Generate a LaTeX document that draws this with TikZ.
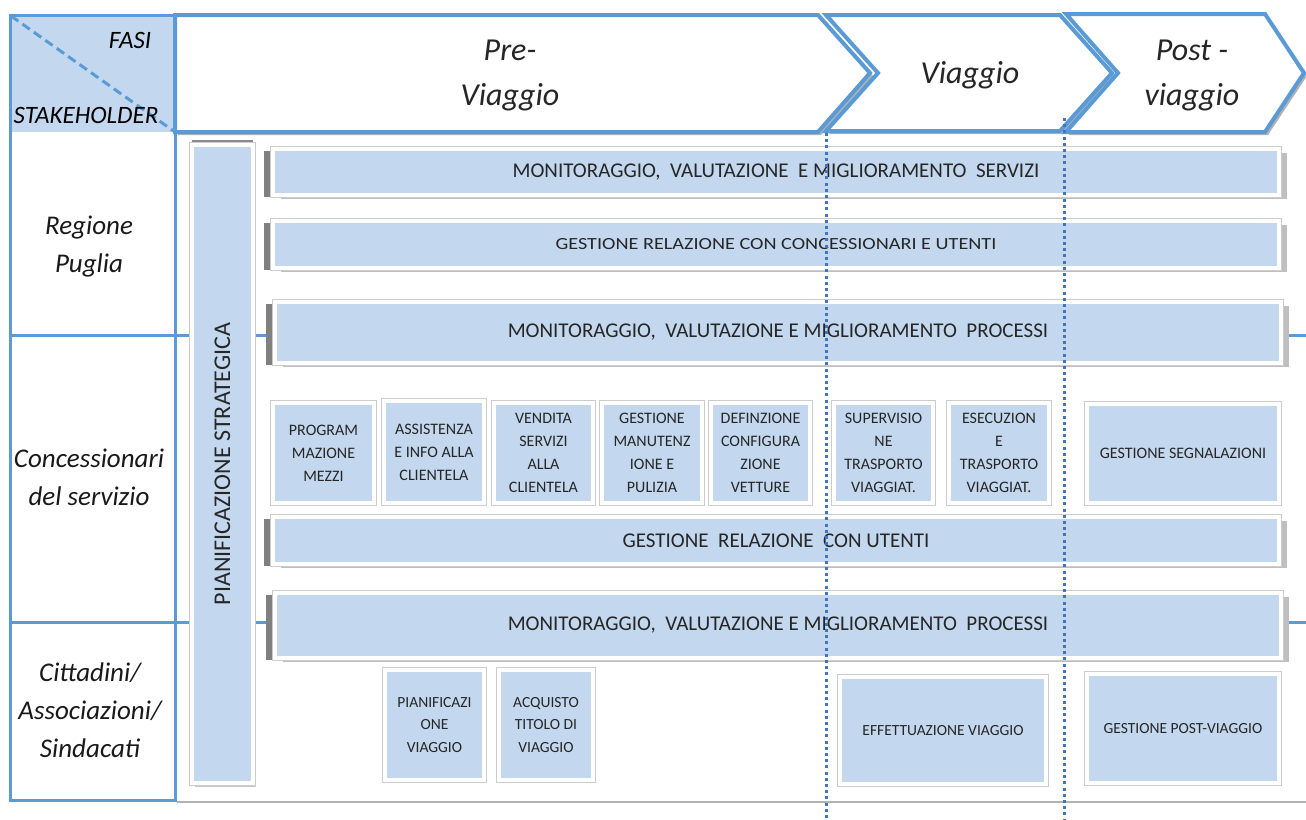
\documentclass[tikz,border=0pt]{standalone}
\usepackage{fontspec}
\setmainfont{Carlito}
\usetikzlibrary{shadows}
\definecolor{lineblue}{RGB}{91,155,213}
\definecolor{boxblue}{RGB}{195,216,238}
\definecolor{dotblue}{RGB}{68,114,196}
\definecolor{txt}{RGB}{38,38,38}
\tikzset{
  gridline/.style={draw=lineblue, line width=3pt},
  chev/.style={draw=lineblue, fill=white, line width=4pt, line join=miter,
    general shadow={fill=black!30, shadow xshift=3pt, shadow yshift=-3pt}},
  phase/.style={font=\itshape\fontsize{32}{45}\selectfont, text=black!85, align=center},
  stake/.style={font=\itshape\fontsize{27}{38}\selectfont, text=black!90, align=center},
  corner/.style={font=\itshape\fontsize{25}{28}\selectfont, text=black},
  frameline/.style={preaction={draw=black!20, line width=6pt}},
  box/.style={draw=white, line width=4pt, fill=boxblue, inner sep=2pt, align=center,
    text=txt, font=\fontsize{16}{23}\selectfont},
  smallbox/.style={box, general shadow={fill=black!22, shadow xshift=2pt, shadow yshift=-3pt}, frameline},
  lowbox/.style={smallbox, font=\fontsize{15.5}{22.5}\selectfont},
  bar/.style={box, font=\fontsize{21}{24}\selectfont,
    general shadow={fill=black!25, shadow xshift=8pt, shadow yshift=-4pt},
    general shadow={fill=black!50, shadow xshift=-9pt, shadow yshift=-2pt}, frameline},
  thinbar/.style={bar, font=\fontsize{17}{20}\selectfont},
  vbar/.style={box, font=\fontsize{24}{26}\selectfont,
    general shadow={fill=black!45, shadow xshift=0pt, shadow yshift=5pt},
    general shadow={fill=black!22, shadow xshift=3pt, shadow yshift=-4pt}, frameline},
  phasesep/.style={draw=dotblue, line width=3pt, dash pattern=on 3pt off 3.2pt}
}
\begin{document}
\begin{tikzpicture}[x=1pt, y=-1pt]
\useasboundingbox (0,0) rectangle (1306,819);

% corner cell of the table
\fill[boxblue] (10,15) rectangle (175,132);

% row separators across the whole table
\draw[gridline] (10,335) -- (1306,335);
\draw[gridline] (10,622) -- (1306,622);

% stakeholder column
\draw[gridline] (10,15) rectangle (175,800);
\draw[gridline] (175,132) -- (175,800);
\draw[draw=black!30, line width=2pt] (177,802) -- (1306,802);

% phase chevrons
\draw[chev] (175,15) -- (818,15) -- (870,73) -- (818,132) -- (175,132) -- cycle;
\draw[chev] (826,15) -- (1060,15) -- (1112,73) -- (1060,131) -- (826,131) -- (878,73) -- cycle;
\draw[chev] (1066,14) -- (1265,14) -- (1304,73) -- (1265,132) -- (1066,132) -- (1118,73) -- cycle;
\node[phase] (pre) at (510,75) {Pre-\\Viaggio};
\node[phase] (viag) at (970,75) {Viaggio};
\node[phase] (post) at (1192,75) {Post -\\viaggio};

% corner header
\draw[draw=lineblue, line width=3pt, dash pattern=on 9pt off 5pt] (11,16) -- (175,132);
\node[corner] (fasi) at (130,40) {FASI};
\node[corner] (stk) at (86,115) {STAKEHOLDER};

% stakeholder labels
\node[stake] (reg) at (89,247) {Regione\\Puglia};
\node[stake] (conc) at (89,477) {Concessionari\\del servizio};
\node[stake] (citt) at (90,710) {Cittadini/\\Associazioni/\\Sindacati};

% strategic planning column
\node[vbar, minimum width=61pt, minimum height=638pt] (ps) at (222.5,464)
  {\rotatebox{90}{PIANIFICAZIONE STRATEGICA}};

% Regione Puglia activities
\node[bar, minimum width=1006pt, minimum height=46pt] (mserv) at (776,172)
  {MONITORAGGIO,\ \ VALUTAZIONE\ \ E MIGLIORAMENTO\ \ SERVIZI};
\node[thinbar, minimum width=1006pt, minimum height=47pt] (grcu) at (776,244.5)
  {\scalebox{1.19}[1]{GESTIONE RELAZIONE CON CONCESSIONARI E UTENTI}};
\node[bar, minimum width=1006pt, minimum height=61pt] (mproc1) at (778,332.5)
  {MONITORAGGIO,\ \ VALUTAZIONE E MIGLIORAMENTO\ \ PROCESSI};

% operator activities
\node[smallbox, minimum width=101pt, minimum height=100pt] (prog) at (323.5,453) {PROGRAM\\MAZIONE\\MEZZI};
\node[smallbox, minimum width=100pt, minimum height=102pt] (assi) at (434,452) {ASSISTENZA\\E INFO ALLA\\CLIENTELA};
\node[smallbox, minimum width=99pt, minimum height=100pt] (vend) at (543.5,453) {VENDITA\\SERVIZI\\ALLA\\CLIENTELA};
\node[smallbox, minimum width=100pt, minimum height=100pt] (manu) at (652,453) {GESTIONE\\MANUTENZ\\IONE E\\PULIZIA};
\node[smallbox, minimum width=99pt, minimum height=100pt] (conf) at (760.5,453) {DEFINZIONE\\CONFIGURA\\ZIONE\\VETTURE};
\node[smallbox, minimum width=99pt, minimum height=100pt] (supe) at (883.5,453) {SUPERVISIO\\NE\\TRASPORTO\\VIAGGIAT.};
\node[smallbox, minimum width=100pt, minimum height=100pt] (esec) at (999,453) {ESECUZION\\E\\TRASPORTO\\VIAGGIAT.};
\node[smallbox, minimum width=192pt, minimum height=99pt] (segn) at (1183,453.5) {GESTIONE SEGNALAZIONI};
\node[bar, minimum width=1006pt, minimum height=47pt] (gru) at (776,540.5)
  {GESTIONE\ \ RELAZIONE\ \ CON UTENTI};
\node[bar, minimum width=1006pt, minimum height=65pt] (mproc2) at (778,625.5)
  {MONITORAGGIO,\ \ VALUTAZIONE E MIGLIORAMENTO\ \ PROCESSI};

% citizen activities
\node[lowbox, minimum width=99pt, minimum height=110pt] (pianv) at (434.5,725) {PIANIFICAZI\\ONE\\VIAGGIO};
\node[lowbox, minimum width=94pt, minimum height=110pt] (acq) at (546,725) {ACQUISTO\\TITOLO DI\\VIAGGIO};
\node[lowbox, minimum width=206pt, minimum height=107pt] (eff) at (943,730.5) {EFFETTUAZIONE VIAGGIO};
\node[lowbox, minimum width=192pt, minimum height=109pt] (gpv) at (1183,728.5) {GESTIONE POST-VIAGGIO};

% phase boundaries
\coordinate (s1t) at (826,133);
\coordinate (s1b) at (826,819);
\coordinate (s2t) at (1064,118);
\coordinate (s2b) at (1064,819);
\draw[phasesep] (s1t) -- (s1b);
\draw[phasesep] (s2t) -- (s2b);
\end{tikzpicture}
\end{document}
